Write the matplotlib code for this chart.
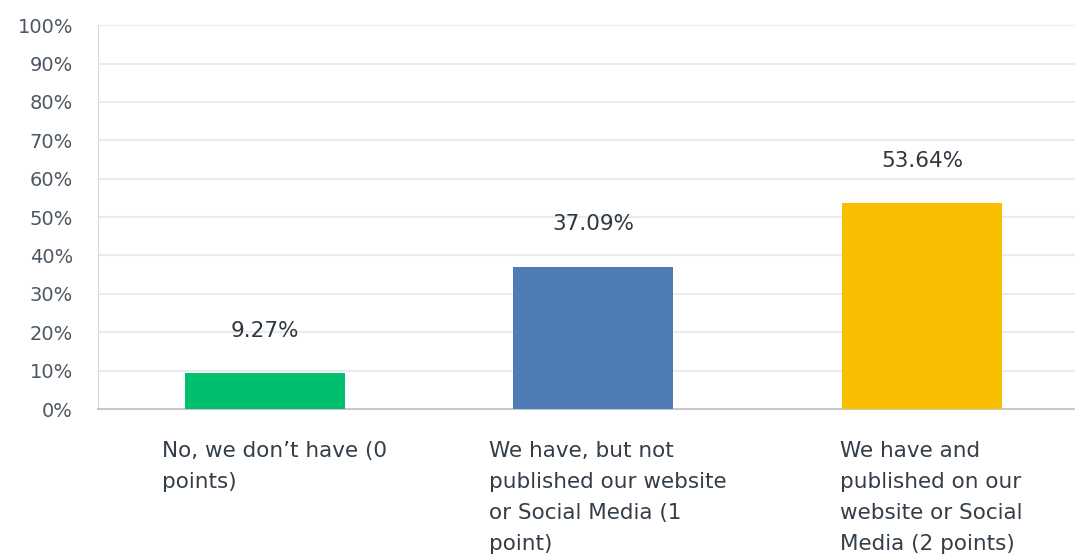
import numpy as np
import matplotlib.pyplot as plt

categories = ["No, we don\u2019t have (0\npoints)",
              "We have, but not\npublished our website\nor Social Media (1\npoint)",
              "We have and\npublished on our\nwebsite or Social\nMedia (2 points)"]
values = [9.27, 37.09, 53.64]
colors = ["#00bf6f", "#507cb6", "#f9be00"]
label_shift = [-0.313, -0.318, -0.25]

fig = plt.figure(figsize=(10.75, 5.58), dpi=100)
ax = fig.add_axes([0.0912, 0.267, 0.91, 0.688])

x = np.arange(len(values))
ax.bar(x, values, width=0.487, color=colors, zorder=3)

for i, v in enumerate(values):
    ax.text(i, v + 11, f"{v:.2f}%", ha="center", va="center",
            fontsize=15.5, color="#2e3740")

for i, lab in enumerate(categories):
    ax.text(i + label_shift[i], -8.3, lab, ha="left", va="top",
            fontsize=15.5, color="#333e48", linespacing=1.68)

ax.set_xlim(-0.508, 2.47)
ax.set_ylim(0, 100)
ax.set_yticks(np.arange(0, 101, 10))
ax.set_yticklabels([f"{t}%" for t in range(0, 101, 10)])
ax.set_xticks([])
ax.tick_params(axis="y", length=0, labelsize=14, labelcolor="#4d5761", pad=18)
ax.grid(axis="y", color="#ebebeb", lw=1.5, zorder=0)
for s in ["top", "right"]:
    ax.spines[s].set_visible(False)
ax.spines["left"].set_color("#d9d9d9")
ax.spines["bottom"].set_color("#c8c8c8")
ax.spines["bottom"].set_linewidth(1.5)

fig.savefig("out.png", dpi=100)
